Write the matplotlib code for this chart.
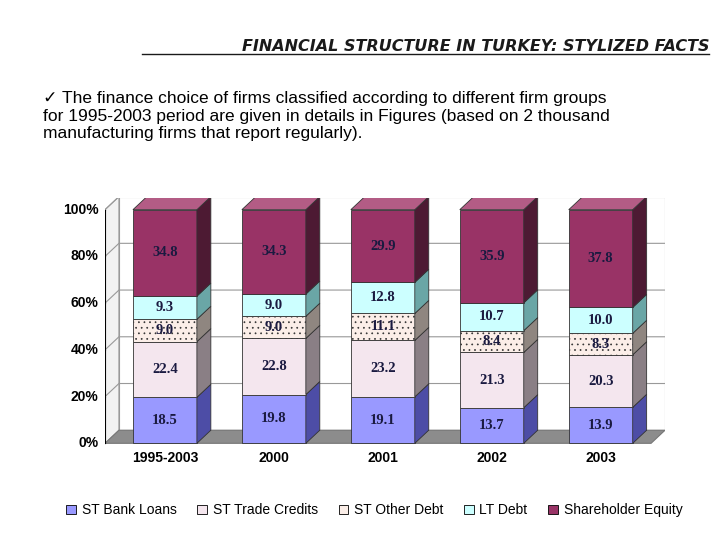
import matplotlib
matplotlib.use("Agg")
import matplotlib.pyplot as plt
from matplotlib.patches import Polygon, Patch

plt.rcParams["hatch.color"] = "#c8b8b0"
plt.rcParams["hatch.linewidth"] = 0.5

categories = ["1995-2003", "2000", "2001", "2002", "2003"]
series_names = ["ST Bank Loans", "ST Trade Credits", "ST Other Debt", "LT Debt", "Shareholder Equity"]
bank = [18.5, 19.8, 19.1, 13.7, 13.9]
trade = [22.4, 22.8, 23.2, 21.3, 20.3]
other = [9.0, 9.0, 11.1, 8.4, 8.3]
ltdebt = [9.3, 9.0, 12.8, 10.7, 10.0]
equity = [34.8, 34.3, 29.9, 35.9, 37.8]
yticks = [0, 20, 40, 60, 80, 100]

series = [bank, trade, other, ltdebt, equity]
front = ["#9999ff", "#f4e6ee", "#fbeee8", "#ccffff", "#993366"]
side = ["#4d4da6", "#8a7f85", "#8f8680", "#6aa6a6", "#4d1a33"]
top = ["#b3b3ff", "#fbf2f6", "#fff5ef", "#e6ffff", "#b35c85"]
SANS = ["Liberation Sans", "DejaVu Sans"]

fig = plt.figure(figsize=(7.2, 5.4), dpi=100)
fig.patch.set_facecolor("white")

fig.text(0.985, 0.905, "FINANCIAL STRUCTURE IN TURKEY: STYLIZED FACTS", ha="right",
         fontsize=11.5, style="italic", fontweight="bold", color="#1a1a1a")
fig.add_artist(plt.Line2D([0.197, 0.985], [0.900, 0.900], color="#1a1a1a", lw=1))
fig.text(0.06, 0.785, "\u2713 The finance choice of firms classified according to different firm groups\n"
         "for 1995-2003 period are given in details in Figures (based on 2 thousand\n"
         "manufacturing firms that report regularly).", fontsize=12.5, va="center",
         linespacing=1.2, family=SANS)

ax = fig.add_axes([105/720, 1-455/540, 560/720, 257/540])
x0, x1 = -0.55, 4.59
ax.set_xlim(x0, x1)
ax.set_ylim(-5, 105)
ax.axis("off")
dx, dy = 0.128, 5.6

ax.add_patch(Polygon([(x0+dx, dy), (x1, dy), (x1, 100+dy), (x0+dx, 100+dy)], closed=True,
                     fc="white", ec="#999999", lw=0.8, zorder=0))
ax.add_patch(Polygon([(x0, 0), (x0+dx, dy), (x0+dx, 100+dy), (x0, 100)], closed=True,
                     fc="#f2f2f2", ec="#999999", lw=0.8, zorder=0))
ax.add_patch(Polygon([(x0, 0), (x1-dx, 0), (x1, dy), (x0+dx, dy)], closed=True,
                     fc="#8c8c8c", ec="#777777", lw=0.8, zorder=0))
for t in yticks[1:]:
    ax.plot([x0, x0+dx, x1], [t, t+dy, t+dy], color="#999999", lw=0.8, zorder=0)
for t in yticks:
    ax.plot([x0-0.04, x0], [t, t], color="black", lw=0.8)
    ax.text(x0-0.06, t, f"{t}%", ha="right", va="center", fontsize=10, fontweight="bold", family=SANS)
ax.plot([x0, x0], [0, 100], color="black", lw=0.8)

w = 0.587
for i, cat in enumerate(categories):
    vals = [s[i] for s in series]
    tot = sum(vals)
    b = 0.0
    L, R = i - w/2, i + w/2
    for k, v in enumerate(vals):
        h = v / tot * 100
        ax.add_patch(Polygon([(L, b), (R, b), (R, b+h), (L, b+h)], closed=True,
                             fc=front[k], ec="#333333", lw=0.6, zorder=2,
                             hatch="..." if k == 2 else None))
        ax.add_patch(Polygon([(R, b), (R+dx, b+dy), (R+dx, b+h+dy), (R, b+h)], closed=True,
                             fc=side[k], ec="#333333", lw=0.6, zorder=2))
        ax.text(i, b + h/2, f"{v:.1f}", ha="center", va="center", fontsize=10.5,
                fontweight="bold", family="Liberation Serif", color="#1a1a40", zorder=3)
        b += h
    ax.add_patch(Polygon([(L, 100), (R, 100), (R+dx, 100+dy), (L+dx, 100+dy)], closed=True,
                         fc=top[4], ec="#333333", lw=0.6, zorder=2))
    ax.text(i, -3.5, cat, ha="center", va="top", fontsize=10, fontweight="bold", family=SANS)

handles = [Patch(fc=front[k], ec="black", lw=0.6) for k in range(5)]
fig.legend(handles, series_names, loc="center", bbox_to_anchor=(0.52, 0.055), ncol=5,
           frameon=False, prop={"family": SANS, "size": 10}, handlelength=0.7, handleheight=0.7,
           handletextpad=0.4, columnspacing=1.5)

fig.savefig("out.png", dpi=100)
